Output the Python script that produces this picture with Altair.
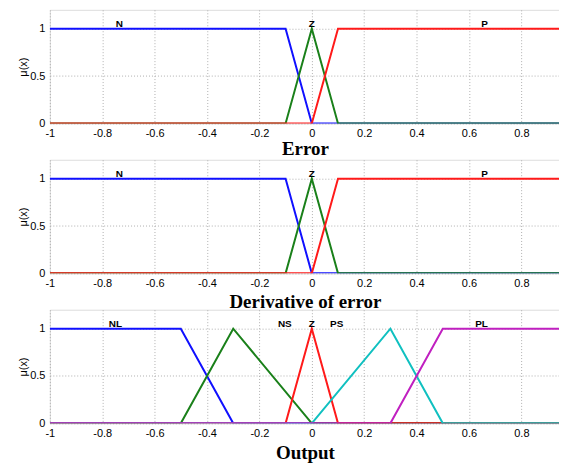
import altair as alt
import pandas as pd

# ---- membership functions (breakpoints) ----
# Error / Derivative of error
e_N_x = [-1, -0.1, 0, 1]
e_N_y = [1, 1, 0, 0]
e_Z_x = [-1, -0.1, 0, 0.1, 1]
e_Z_y = [0, 0, 1, 0, 0]
e_P_x = [-1, 0, 0.1, 1]
e_P_y = [0, 0, 1, 1]

# Output
o_NL_x = [-1, -0.5, -0.3, 1]
o_NL_y = [1, 1, 0, 0]
o_NS_x = [-1, -0.5, -0.3, 0, 1]
o_NS_y = [0, 0, 1, 0, 0]
o_Z_x = [-1, -0.1, 0, 0.1, 1]
o_Z_y = [0, 0, 1, 0, 0]
o_PS_x = [-1, 0, 0.3, 0.5, 1]
o_PS_y = [0, 0, 1, 0, 0]
o_PL_x = [-1, 0.3, 0.5, 1]
o_PL_y = [0, 0, 1, 1]

# labels
e_lab_names = ["N", "Z", "P"]
e_lab_x = [-0.735, 0.0, 0.66]
o_lab_names = ["NL", "NS", "Z", "PS", "PL"]
o_lab_x = [-0.75, -0.103, 0.0, 0.095, 0.648]
lab_y = 1.05

x_ticks = [-1, -0.8, -0.6, -0.4, -0.2, 0, 0.2, 0.4, 0.6, 0.8]
y_ticks = [0, 0.5, 1]

panel_titles = ["Error", "Derivative of error", "Output"]

BLUE = "#1010ff"
GREEN = "#1a801a"
RED = "#ff1a1a"
CYAN = "#10c0c0"
MAGENTA = "#c020c0"

W = 512
H = 114
XMAX = -1 + W / 262.9
FONT = "Liberation Sans"


def x_enc(title, title_y):
    return alt.X(
        "x:Q",
        scale=alt.Scale(domain=[-1, XMAX], nice=False, zero=False),
        axis=alt.Axis(
            values=x_ticks,
            labelExpr="'' + datum.value",
            title=title,
            titleFont="Liberation Serif",
            titleFontSize=19,
            titleFontWeight="bold",
            titleColor="black",
            titleBaseline="alphabetic",
            titleY=title_y,
            labelFont=FONT,
            labelFontSize=11,
            labelColor="black",
            labelPadding=4,
            labelFlush=False,
            labelOverlap=False,
            ticks=False,
            domain=False,
            grid=True,
            gridColor="#b0b0b0",
            gridDash=[1, 2],
            gridWidth=1,
        ),
    )


def y_enc():
    return alt.Y(
        "y:Q",
        scale=alt.Scale(domain=[0, 1.2], nice=False),
        axis=alt.Axis(
            values=y_ticks,
            labelExpr="'' + datum.value",
            title="\u03bc(x)",
            titleFont=FONT,
            titleFontSize=11,
            titleFontWeight="normal",
            titleColor="black",
            titleX=-26,
            titleBaseline="middle",
            labelFont=FONT,
            labelFontSize=11,
            labelColor="black",
            labelPadding=5,
            labelOverlap=False,
            ticks=False,
            domain=False,
            grid=True,
            gridColor="#b0b0b0",
            gridDash=[1, 2],
            gridWidth=1,
        ),
    )


def panel(mfs, names, name_x, title, title_y):
    layers = []
    for xs, ys, col in mfs:
        df = pd.DataFrame({"x": xs, "y": ys})
        layers.append(
            alt.Chart(df)
            .mark_line(color=col, strokeWidth=2, clip=True)
            .encode(x=x_enc(title, title_y), y=y_enc())
        )
    lab = pd.DataFrame({"x": name_x, "y": [lab_y] * len(name_x), "t": names})
    layers.append(
        alt.Chart(lab)
        .mark_text(font=FONT, fontSize=10, fontWeight="bold", color="black",
                   baseline="middle", align="center")
        .encode(x=x_enc(title, title_y), y=y_enc(), text="t:N")
    )
    return alt.layer(*layers).properties(width=W, height=H)


p1 = panel([(e_N_x, e_N_y, BLUE), (e_Z_x, e_Z_y, GREEN), (e_P_x, e_P_y, RED)],
           e_lab_names, e_lab_x, panel_titles[0], 31)
p2 = panel([(e_N_x, e_N_y, BLUE), (e_Z_x, e_Z_y, GREEN), (e_P_x, e_P_y, RED)],
           e_lab_names, e_lab_x, panel_titles[1], 34)
p3 = panel([(o_NL_x, o_NL_y, BLUE), (o_NS_x, o_NS_y, GREEN), (o_Z_x, o_Z_y, RED),
            (o_PS_x, o_PS_y, CYAN), (o_PL_x, o_PL_y, MAGENTA)],
           o_lab_names, o_lab_x, panel_titles[2], 35)

chart = (
    alt.vconcat(p1, p2, p3, spacing=36.5, bounds="flush",
                padding={"top": 0, "left": 9, "right": -2, "bottom": 0})
    .configure_view(stroke="#8c8c8c", strokeWidth=1)
    .configure(background="white")
)

chart.save("out.html", embed_options={"renderer": "svg", "actions": False})
